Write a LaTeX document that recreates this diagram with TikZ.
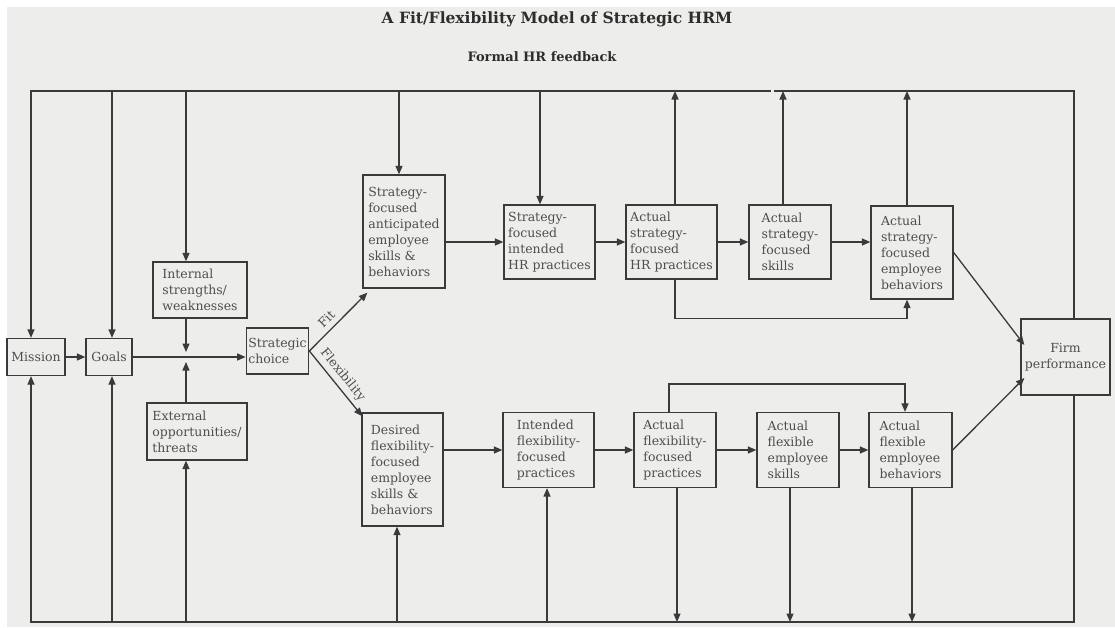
\documentclass[tikz,border=0pt]{standalone}
\usepackage{fontspec}
\setmainfont{DejaVu Serif}
\usetikzlibrary{arrows.meta}
\definecolor{paper}{RGB}{237,237,235}
\definecolor{ink}{RGB}{58,58,58}
\definecolor{txt}{RGB}{78,78,78}
\definecolor{head}{RGB}{45,45,45}

\begin{document}
\begin{tikzpicture}[x=1pt,y=-1pt,
  box/.style={draw=ink, line width=1.3pt, align=left, inner sep=2pt, text=txt,
              font=\fontsize{12.5}{16}\selectfont},
  link/.style={draw=ink, line width=1.3pt, line cap=rect},
  arr/.style={link, -{Triangle[length=8.5pt,width=7pt]}},
  tag/.style={text=txt, font=\fontsize{12.5}{14}\selectfont, inner sep=1pt}]

\useasboundingbox (0,0) rectangle (1115,627);
\fill[white] (0,0) rectangle (1115,627);
\fill[paper] (7,7) rectangle (1115,627);

% headings
\node[text=head, font=\bfseries\fontsize{15.5}{18}\selectfont] (title) at (557,19)
  {A Fit/Flexibility Model of Strategic HRM};
\node[text=head, font=\bfseries\fontsize{13}{15}\selectfont] (fb) at (542,57)
  {Formal HR feedback};

% left part
\node[box, minimum width=58pt, minimum height=37pt] (mission) at (36,357) {Mission};
\node[box, minimum width=46pt, minimum height=37pt] (goals) at (109,357) {Goals};
\node[box, minimum width=94pt, minimum height=56pt] (internal) at (200,290)
  {Internal\\strengths/\\weaknesses};
\node[box, minimum width=100pt, minimum height=57pt] (external) at (197,431.5)
  {External\\opportunities/\\threats};
\node[box, minimum width=61pt, minimum height=46pt] (choice) at (277.5,351)
  {Strategic\\choice};

% strategy (fit) row
\node[box, minimum width=82pt, minimum height=113pt] (antic) at (404,231.5)
  {Strategy-\\focused\\anticipated\\employee\\skills \&\\behaviors};
\node[box, minimum width=91pt, minimum height=74pt] (intHR) at (549.5,242)
  {Strategy-\\focused\\intended\\HR practices};
\node[box, minimum width=91pt, minimum height=74pt] (actHR) at (671.5,242)
  {Actual\\strategy-\\focused\\HR practices};
\node[box, minimum width=82pt, minimum height=74pt] (actSk) at (790,242)
  {Actual\\strategy-\\focused\\skills};
\node[box, minimum width=82pt, minimum height=93pt] (actBeh) at (912,252.5)
  {Actual\\strategy-\\focused\\employee\\behaviors};

% flexibility row
\node[box, minimum width=81pt, minimum height=113pt] (desired) at (402.5,469.5)
  {Desired\\flexibility-\\focused\\employee\\skills \&\\behaviors};
\node[box, minimum width=91pt, minimum height=75pt] (intFlex) at (548.5,450)
  {Intended\\flexibility-\\focused\\practices};
\node[box, minimum width=82pt, minimum height=75pt] (actFlex) at (675,450)
  {Actual\\flexibility-\\focused\\practices};
\node[box, minimum width=82pt, minimum height=75pt] (flexSk) at (798,450)
  {Actual\\flexible\\employee\\skills};
\node[box, minimum width=83pt, minimum height=75pt] (flexBeh) at (910.5,450)
  {Actual\\flexible\\employee\\behaviors};

% outcome
\node[box, align=center, minimum width=89pt, minimum height=76pt] (firm) at (1065.5,357)
  {Firm\\performance};

% branch points on the feedback lines
\coordinate (t1) at (31,91);   \coordinate (b1) at (31,622);
\coordinate (t2) at (112,91);  \coordinate (b2) at (112,622);
\coordinate (t3) at (186,91);  \coordinate (b3) at (186,622);
\coordinate (t4) at (399,91);  \coordinate (b4) at (397,622);
\coordinate (t5) at (540,91);  \coordinate (b5) at (547,622);
\coordinate (t6) at (675,91);  \coordinate (b6) at (677,622);
\coordinate (t7) at (783,91);  \coordinate (b7) at (790,622);
\coordinate (t8) at (907,91);  \coordinate (b8) at (912,622);
\coordinate (t9) at (1074,91); \coordinate (b9) at (1074,622);
\coordinate (gapL) at (770,91); \coordinate (gapR) at (775,91);

% formal HR feedback (top) loop
\draw[link] (t1) -- (gapL);
\draw[link] (gapR) -- (t9) -- (t9 |- firm.north);
\draw[arr] (t1) -- (t1 |- mission.north);
\draw[arr] (t2) -- (t2 |- goals.north);
\draw[arr] (t3) -- (t3 |- internal.north);
\draw[arr] (t4) -- (t4 |- antic.north);
\draw[arr] (t5) -- (t5 |- intHR.north);
\draw[arr] (t6 |- actHR.north) -- (t6);
\draw[arr] (t7 |- actSk.north) -- (t7);
\draw[arr] (t8 |- actBeh.north) -- (t8);

% bottom loop
\draw[link] (b1) -- (b9) -- (b9 |- firm.south);
\draw[arr] (b1) -- (b1 |- mission.south);
\draw[arr] (b2) -- (b2 |- goals.south);
\draw[arr] (b3) -- (b3 |- external.south);
\draw[arr] (b4) -- (b4 |- desired.south);
\draw[arr] (b5) -- (b5 |- intFlex.south);
\draw[arr] (b6 |- actFlex.south) -- (b6);
\draw[arr] (b7 |- flexSk.south) -- (b7);
\draw[arr] (b8 |- flexBeh.south) -- (b8);

% mission, goals and environment feed the strategic choice
\draw[arr] (mission) -- (goals);
\draw[arr] (goals.east) -- (goals.east -| choice.west);
\draw[arr, shorten >=5pt] (t3 |- internal.south) -- (t3 |- goals.east);
\draw[arr, shorten >=5pt] (t3 |- external.north) -- (t3 |- goals.east);

% fit / flexibility branches
\draw[arr] (choice.east) -- ([xshift=5pt,yshift=-4pt]antic.south west)
  node[tag, pos=0.42, above=4pt, sloped] {Fit};
\draw[arr] (choice.east) -- ([xshift=1pt,yshift=-4pt]desired.north west)
  node[tag, pos=0.47, above=3pt, sloped] {Flexibility};

% strategy chain
\draw[arr] (antic.east |- intHR.west) -- (intHR.west);
\draw[arr] (intHR) -- (actHR);
\draw[arr] (actHR) -- (actSk);
\draw[arr] (actSk.east) -- (actSk.east -| actBeh.west);
\draw[arr] (t6 |- actHR.south) -- ++(0,39) -| (t8 |- actBeh.south);

% flexibility chain
\coordinate (fa) at (669,384); \coordinate (fz) at (905,384);
\draw[arr] (desired.east |- intFlex.west) -- (intFlex.west);
\draw[arr] (intFlex) -- (actFlex);
\draw[arr] (actFlex) -- (flexSk);
\draw[arr] (flexSk) -- (flexBeh);
\draw[arr] (fa |- actFlex.north) -- (fa) -- (fz) -- (fz |- flexBeh.north);

% behaviours drive firm performance
\draw[arr] (actBeh.east) -- ([xshift=4pt,yshift=12pt]firm.west);
\draw[arr] (flexBeh.east) -- ([xshift=4pt,yshift=-21pt]firm.west);
\end{tikzpicture}
\end{document}
